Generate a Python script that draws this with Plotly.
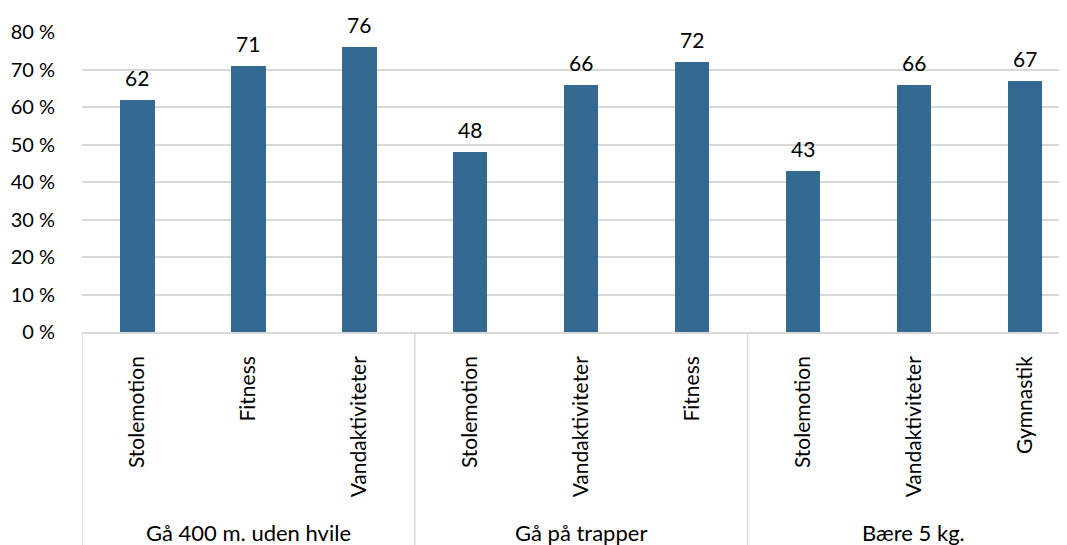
import plotly.graph_objects as go

groups = ["Gå 400 m. uden hvile", "Gå på trapper", "Bære 5 kg."]
activities = [
    ["Stolemotion", "Fitness", "Vandaktiviteter"],
    ["Stolemotion", "Vandaktiviteter", "Fitness"],
    ["Stolemotion", "Vandaktiviteter", "Gymnastik"],
]
values = [
    [62, 71, 76],
    [48, 66, 72],
    [43, 66, 67],
]
y_ticks = [0, 10, 20, 30, 40, 50, 60, 70, 80]

FONT = "Lato, Carlito, Calibri, sans-serif"
BAR = "#346A92"
GRID = "#D9D9D9"

labels, vals, pos = [], [], []
i = 0
group_pos = []
for g, acts, vs in zip(groups, activities, values):
    start = i
    for a, v in zip(acts, vs):
        labels.append(a)
        vals.append(v)
        pos.append(i)
        i += 1
    group_pos.append((start, i - 1))

fig = go.Figure()
fig.add_trace(go.Bar(x=pos, y=vals, marker=dict(color=BAR, line=dict(width=0)),
                     width=0.31, hoverinfo="skip", showlegend=False))

for x, v in zip(pos, vals):
    fig.add_annotation(x=x, y=v, xref="x", yref="y", text=str(v), showarrow=False,
                       yanchor="bottom", yshift=8,
                       font=dict(family=FONT, size=21, color="#000000"))

plot_h = 300
for (s, e), g in zip(group_pos, groups):
    fig.add_annotation(x=(s + e) / 2, y=-(532 - 332) / plot_h, xref="x", yref="paper",
                       text=g, showarrow=False, yanchor="middle",
                       font=dict(family=FONT, size=22, color="#000000"))
    fig.add_shape(type="line", xref="x", yref="paper", x0=s - 0.5, x1=s - 0.5,
                  y0=0, y1=-213 / plot_h, line=dict(color=GRID, width=1.5))
last = group_pos[-1][1]
fig.add_shape(type="line", xref="x", yref="paper", x0=last + 0.5, x1=last + 0.5,
              y0=0, y1=-213 / plot_h, line=dict(color=GRID, width=1.5))

fig.update_layout(
    width=1059, height=537,
    margin=dict(l=74, r=0, t=24, b=213, autoexpand=False),
    paper_bgcolor="white", plot_bgcolor="white",
    font=dict(family=FONT, size=20, color="#000000"),
    bargap=0,
    xaxis=dict(
        range=[-0.5, 8.38], tickmode="array", tickvals=pos, ticktext=labels,
        tickangle=-90, ticks="outside", ticklen=0, ticklabelstandoff=14,
        showgrid=False, zeroline=False, showline=True, linecolor=GRID, linewidth=1.5,
        tickfont=dict(family=FONT, size=21, color="#000000"), automargin=False,
    ),
    yaxis=dict(
        range=[0, 80], tickmode="array", tickvals=y_ticks,
        ticktext=[f"{t} %" for t in y_ticks],
        showgrid=True, gridcolor=GRID, gridwidth=1.5, zeroline=False,
        showline=False, ticks="outside", ticklen=0, ticklabelstandoff=22,
        tickfont=dict(family=FONT, size=20, color="#000000"), automargin=False,
    ),
)

fig.write_html("out.html")
